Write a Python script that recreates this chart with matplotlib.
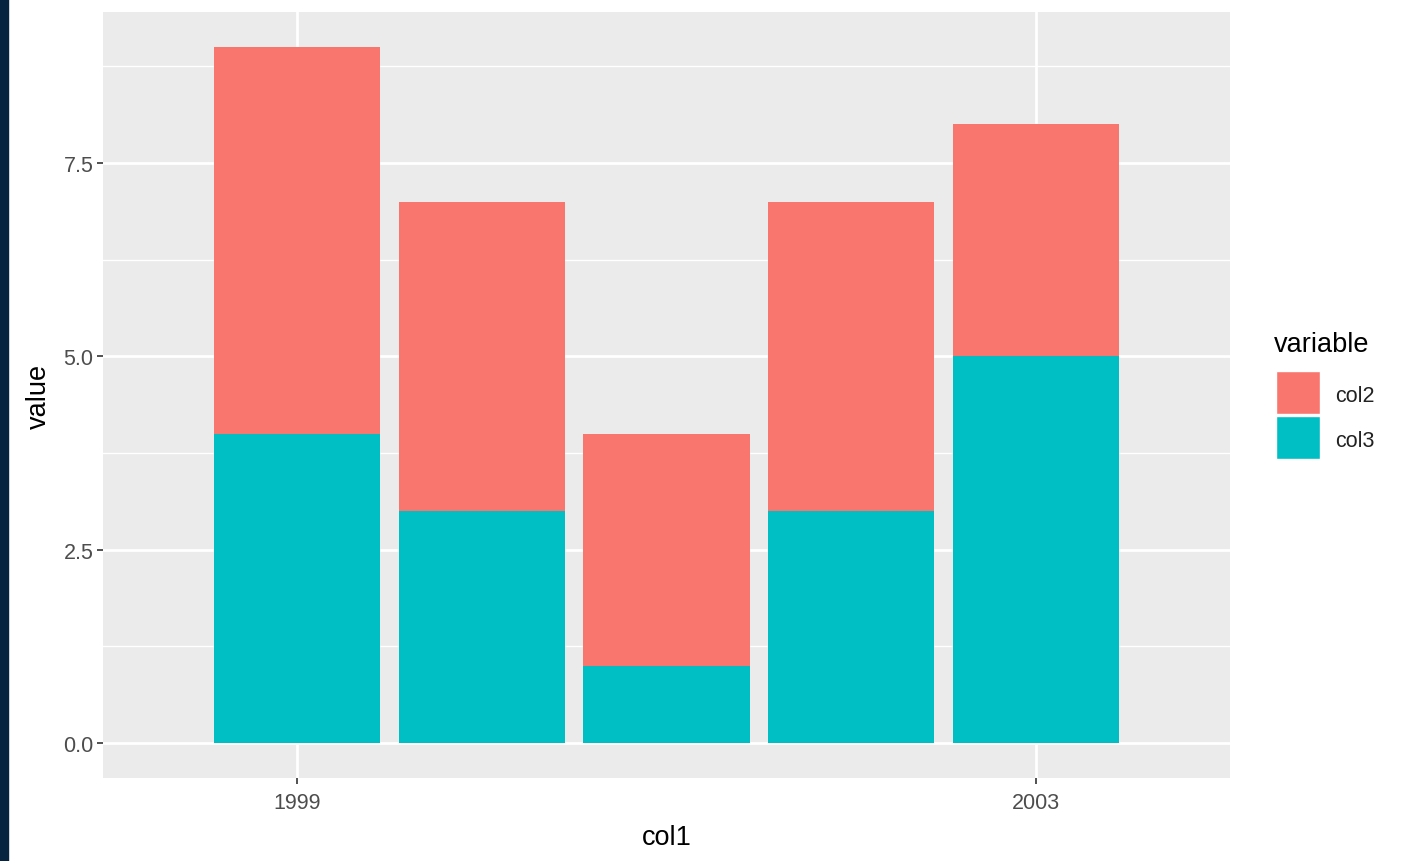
import matplotlib
matplotlib.use("Agg")
import matplotlib.pyplot as plt
from matplotlib.patches import Rectangle

years = [1999, 2000, 2001, 2002, 2003]
col2 = [5, 4, 3, 4, 3]
col3 = [4, 3, 1, 3, 5]
series = ["col2", "col3"]
colors = {"col2": "#F8766D", "col3": "#00BFC4"}

plt.rcParams['font.family'] = ['Liberation Sans', 'DejaVu Sans']

W, H = 1406, 862
fig = plt.figure(figsize=(W / 100, H / 100), dpi=100)
fig.patch.set_facecolor("white")
fig.add_artist(Rectangle((0, 0), 8 / W, 1, transform=fig.transFigure,
                         color="#062340", zorder=0))

ax = fig.add_axes([103 / W, 83 / H, 1127 / W, 766 / H])
ax.set_facecolor("#EBEBEB")

ax.bar(years, col3, width=0.9, color=colors["col3"], zorder=3)
ax.bar(years, col2, width=0.9, bottom=col3, color=colors["col2"], zorder=3)

ax.set_xlim(1997.95, 2004.05)
ax.set_ylim(-0.45, 9.45)
ax.set_xticks([1999, 2003])
ax.set_yticks([0, 2.5, 5, 7.5])
ax.set_yticklabels(["0.0", "2.5", "5.0", "7.5"])
ax.set_yticks([1.25, 3.75, 6.25, 8.75], minor=True)

ax.grid(which="major", color="white", linewidth=2.0, zorder=1)
ax.grid(which="minor", axis="y", color="white", linewidth=1.0, zorder=1)
ax.set_axisbelow(True)
for s in ax.spines.values():
    s.set_visible(False)
ax.tick_params(which="major", length=4, width=1.2, color="#333333",
               labelsize=15.5, labelcolor="#4D4D4D", pad=3)
ax.tick_params(axis="x", which="major", pad=6)
ax.tick_params(which="minor", length=0)

ax.set_xlabel("col1", fontsize=19.5, color="black", labelpad=8)
ax.set_ylabel("value", fontsize=19.5, color="black", labelpad=8)

# legend drawn by hand, ggplot style (big square keys, left-aligned title)
fig.text(1274 / W, 1 - 345 / H, "variable", fontsize=19.5, color="black",
         ha="left", va="center")
key_top = 372
for s in series:
    fig.add_artist(Rectangle((1276 / W, 1 - (key_top + 43) / H), 44 / W, 43 / H,
                             transform=fig.transFigure, facecolor=colors[s],
                             edgecolor="white", linewidth=1.0))
    fig.text(1335 / W, 1 - (key_top + 25) / H, s, fontsize=15.5,
             color="#222222", ha="left", va="center")
    key_top += 45

fig.savefig("out.png", dpi=100)
